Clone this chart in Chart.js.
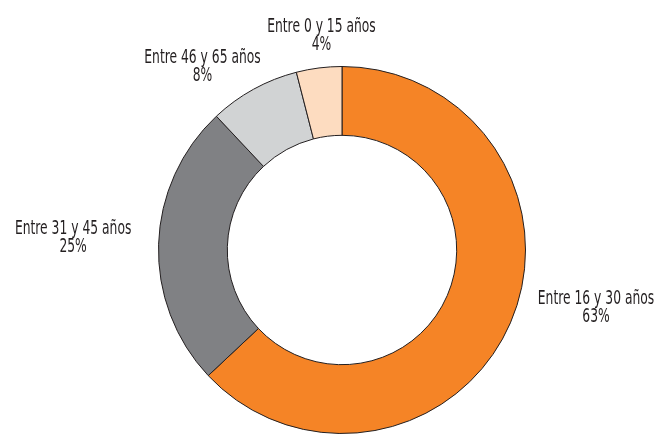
<!DOCTYPE html>
<html>
<head>
<meta charset="utf-8">
<script src="https://cdn.jsdelivr.net/npm/chart.js@4"></script>
<style>
html,body{margin:0;padding:0;background:#fff;}
#wrap{width:659px;height:434px;position:relative;}
</style>
</head>
<body>
<div id="wrap"><canvas id="c" width="659" height="434"></canvas></div>
<script>
const categories = ["Entre 16 y 30 años", "Entre 31 y 45 años", "Entre 46 y 65 años", "Entre 0 y 15 años"];
const values = [63, 25, 8, 4];
const percentLabels = ["63%", "25%", "8%", "4%"];
const colors = ["#f58426", "#808184", "#d1d3d4", "#fddcc0"];

const labelPlugin = {
  id: 'outerLabels',
  afterDatasetsDraw(chart, args, opts) {
    const ctx = chart.ctx;
    const meta = chart.getDatasetMeta(0);
    ctx.save();
    ctx.font = opts.font;
    ctx.fillStyle = opts.color;
    ctx.textAlign = 'center';
    ctx.textBaseline = 'alphabetic';
    const drawLine = (txt, x, y) => {
      ctx.save();
      ctx.translate(x, y);
      ctx.scale(opts.scaleX, 1);
      ctx.fillText(txt, 0, 0);
      ctx.restore();
    };
    meta.data.forEach((arc, i) => {
      const p = arc.getProps(['x','y','startAngle','endAngle','outerRadius'], true);
      const mid = (p.startAngle + p.endAngle) / 2;
      const d = opts.distances[i];
      const cx = p.x + Math.cos(mid) * d + opts.shiftX[i];
      const cy = p.y + Math.sin(mid) * d + opts.shiftY[i];
      drawLine(chart.data.labels[i], cx, cy - opts.lineGap / 2 + opts.capHalf);
      drawLine(percentLabels[i], cx, cy + opts.lineGap / 2 + opts.capHalf);
    });
    ctx.restore();
  }
};

new Chart(document.getElementById('c'), {
  type: 'doughnut',
  data: {
    labels: categories,
    datasets: [{
      data: values,
      backgroundColor: colors,
      borderColor: '#231f20',
      borderWidth: 1
    }]
  },
  options: {
    responsive: false,
    animation: false,
    cutout: '62.5%',
    layout: { padding: { top: 66, bottom: 0, left: 25, right: 0 } },
    plugins: {
      legend: { display: false },
      tooltip: { enabled: false },
      outerLabels: {
        font: '20px "DejaVu Sans Condensed", sans-serif',
        color: '#231f20',
        scaleX: 0.685,
        lineGap: 18.5,
        capHalf: 7.2,
        distances: [261, 269, 232, 218],
        shiftX: [14.5, 0, -27.7, 6.8],
        shiftY: [-47.8, -5.6, 18.3, 0.2]
      }
    }
  },
  plugins: [labelPlugin]
});
</script>
</body>
</html>
